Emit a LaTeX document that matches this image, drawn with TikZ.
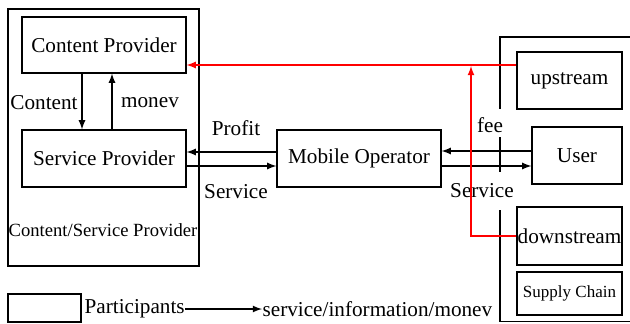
\documentclass[tikz,border=0pt]{standalone}
\usepackage{fontspec}
\setmainfont{Liberation Serif}
\usetikzlibrary{positioning}
\usetikzlibrary{arrows}

\begin{document}
\begin{tikzpicture}[x=0.5pt,y=-0.5pt,->,>=latex,semithick,
    party/.style={rectangle,draw,inner sep=0pt,font=\fontsize{10.6}{12}\selectfont},
    lbl/.style={inner sep=0pt,font=\fontsize{10.6}{12}\selectfont}]

    \useasboundingbox (0,0) rectangle (630,323);

    % left group
    \node[rectangle,draw,minimum width=95.5pt,minimum height=128.5pt] (csp) at (103.5,137.5) {};
    \node[party,minimum width=82pt,minimum height=28pt] (cp) at (104,45) {Content Provider};
    \node[party,minimum width=82pt,minimum height=28.5pt] (sp) at (104,158.5) {Service Provider};
    \node[lbl,font=\fontsize{9.3}{11}\selectfont] (cspl) at (103,230) {Content/Service Provider};

    \node[party,minimum width=82pt,minimum height=28.5pt] (mo) at (359,158.5) {Mobile Operator};

    % right group
    \node[party,minimum width=52.5pt,minimum height=28.5pt] (up) at (569.5,80.5) {\raisebox{-2.5pt}{upstream}};
    \node[party,minimum width=45pt,minimum height=28.5pt] (user) at (577,155.5) {User};
    \node[party,minimum width=52.5pt,minimum height=29pt] (down) at (569.5,236) {downstream};
    \node[party,minimum width=52.5pt,minimum height=21.5pt,font=\fontsize{8.5}{10}\selectfont] (sc) at (569.5,293.5) {Supply Chain};
    \draw[-] (630,37) -- (500,37) -- (500,109);
    \draw[-] (500,137) -- (500,172);
    \draw[-] (500,210) -- (500,321.5) -- (630,321.5);

    % flows
    \node[lbl] (lcontent) at (44,103) {Content};
    \node[lbl] (lmonev) at (150,103) {monev};
    \node[lbl] (lprofit) at (236,128) {Profit};
    \node[lbl] (lserv1) at (236,192) {Service};
    \node[lbl] (lfee) at (490,125) {fee};
    \node[lbl] (lserv2) at (482,191) {Service};

    \draw ([xshift=-11pt]cp.south) -- ([xshift=-11pt]sp.north);
    \draw ([xshift=4pt]sp.north) -- ([xshift=4pt]cp.south);
    \draw (mo.west |- 0,152) -- (sp.east |- 0,152);
    \draw (sp.east |- 0,166) -- (mo.west |- 0,166);
    \draw (user.west |- 0,151) -- (mo.east |- 0,151);
    \draw (mo.east |- 0,166) -- (user.west |- 0,166);

    \draw[red] (up.west |- 0,65) -- (cp.east |- 0,65);
    \draw[red] (down.west) -| (471,66);

    % legend
    \node[rectangle,draw,minimum width=36.5pt,minimum height=14pt] (key) at (44.5,308) {};
    \node[lbl,anchor=west] (kpart) at (84,309) {Participants};
    \node[lbl,anchor=west] (kflow) at (262,309) {service/information/monev};
    \draw (kpart.east) -- (kflow.west);

\end{tikzpicture}
\end{document}
